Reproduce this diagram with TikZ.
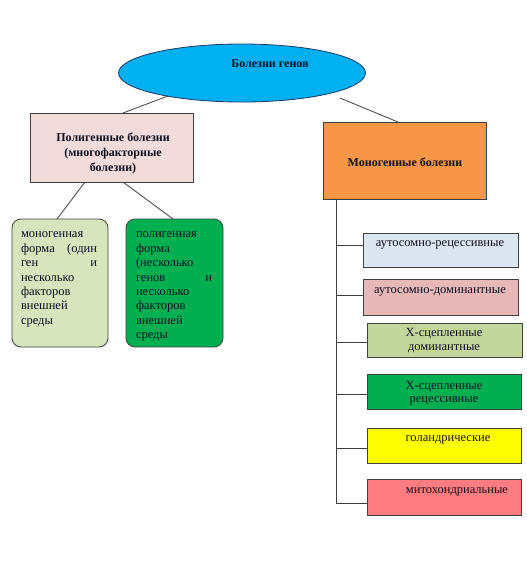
\documentclass[tikz,border=0pt]{standalone}
\usepackage{fontspec}
\setmainfont{Liberation Serif}
\usetikzlibrary{shapes.geometric}
\definecolor{ellfill}{HTML}{00B0F0}
\definecolor{ellline}{HTML}{1F3864}
\definecolor{polyfill}{HTML}{F2DCDB}
\definecolor{monofill}{HTML}{F79646}
\definecolor{lgreen}{HTML}{D7E4BD}
\definecolor{dgreen}{HTML}{00B050}
\definecolor{rblue}{HTML}{DCE6F2}
\definecolor{rpink}{HTML}{E6B8B7}
\definecolor{rolive}{HTML}{C3D69B}
\definecolor{ryellow}{HTML}{FFFF00}
\definecolor{rred}{HTML}{FF7C80}
\definecolor{linec}{HTML}{404040}
\definecolor{txt}{HTML}{101020}
\begin{document}
\begin{tikzpicture}[x=1pt,y=-1pt,
  every node/.style={inner sep=0pt,outer sep=0pt,text=txt},
  boxnode/.style={draw=linec,line width=0.8pt,rectangle},
  roundbox/.style={draw=linec,line width=0.8pt,rectangle,rounded corners=9pt},
  conn/.style={draw=linec,line width=0.8pt},
  txtfont/.style={font=\fontsize{12.5}{14.4}\selectfont},
  boldfont/.style={font=\fontsize{12}{15}\selectfont\bfseries}
]
\useasboundingbox (0,0) rectangle (527,579);
\fill[white] (0,0) rectangle (527,579);

% top ellipse
\node[ellipse,draw=ellline,line width=0.8pt,fill=ellfill,minimum width=247pt,minimum height=58pt] (root) at (242,73) {};
\node[boldfont] (roott) at (270,64) {Болезни генов};

% second level
\node[boxnode,fill=polyfill,minimum width=163pt,minimum height=69pt] (poly) at (111.5,147.5) {};
\node[boldfont,align=center] (polyt) at (113,153) {Полигенные болезни\\(многофакторные\\болезни)};
\node[boxnode,fill=monofill,minimum width=163pt,minimum height=77pt] (mono) at (404.5,160.5) {};
\node[boldfont] (monot) at (405,162) {Моногенные болезни};

% connectors root
\coordinate (rl) at (168,96);
\coordinate (rr) at (340,98);
\draw[conn] (rl) -- (poly.north -| 123,0);
\draw[conn] (rr) -- (mono.north -| 398,0);

% lower-left boxes
\node[roundbox,fill=lgreen,minimum width=96pt,minimum height=128pt] (lf1) at (60,283) {};
\node[roundbox,fill=dgreen,minimum width=97pt,minimum height=128pt] (lf2) at (174.5,283) {};
\node[txtfont,anchor=north west,text width=76pt,align=left] (lf1t) at (21,232)
  {моногенная\\форма \hfill (один\\ген \hfill и\\несколько\\факторов\\внешней\\среды};
\node[txtfont,anchor=north west,text width=76pt,align=left] (lf2t) at (136,232)
  {полигенная\\форма\\(несколько\\генов \hfill и\\несколько\\факторов\\внешней\\среды};
\draw[conn] (poly.south -| 85,0) -- (lf1.north -| 57,0);
\draw[conn] (poly.south -| 123,0) -- (lf2.north -| 173,0);

% right boxes
\node[boxnode,fill=rblue,minimum width=155pt,minimum height=34pt] (r1) at (440.5,250) {};
\node[txtfont] (r1t) at (440,245) {аутосомно-рецессивные};
\node[boxnode,fill=rpink,minimum width=155pt,minimum height=36pt] (r2) at (440.5,297) {};
\node[txtfont] (r2t) at (440,292) {аутосомно-доминантные};
\node[boxnode,fill=rolive,minimum width=155pt,minimum height=34pt] (r3) at (444.5,340) {};
\node[align=center,font=\fontsize{12.5}{13.5}\selectfont] (r3t) at (444,340.5) {Х-сцепленные\\доминантные};
\node[boxnode,fill=dgreen,minimum width=154pt,minimum height=35pt] (r4) at (444,391.5) {};
\node[align=center,font=\fontsize{12.5}{13.5}\selectfont] (r4t) at (444,393) {Х-сцепленные\\рецессивные};
\node[boxnode,fill=ryellow,minimum width=154pt,minimum height=35pt] (r5) at (444,445.5) {};
\node[txtfont] (r5t) at (448,440) {голандрические};
\node[boxnode,fill=rred,minimum width=154pt,minimum height=36pt] (r6) at (444,497) {};
\node[txtfont] (r6t) at (457,492) {митохондриальные};

% trunk
\coordinate (ttop) at (336,199);
\coordinate (tbot) at (336,503);
\draw[conn] (ttop) -- (tbot);
\coordinate (b1) at ([yshift=5pt]r1.west);
\coordinate (b2) at ([yshift=2pt]r2.west);
\coordinate (b3) at ([yshift=-2pt]r3.west);
\coordinate (b4) at ([yshift=-2.5pt]r4.west);
\coordinate (b5) at ([yshift=-2.5pt]r5.west);
\coordinate (b6) at ([yshift=-6pt]r6.west);
\foreach \b in {b1,b2,b3,b4,b5,b6} {\draw[conn] (ttop |- \b) -- (\b);}
\end{tikzpicture}
\end{document}
